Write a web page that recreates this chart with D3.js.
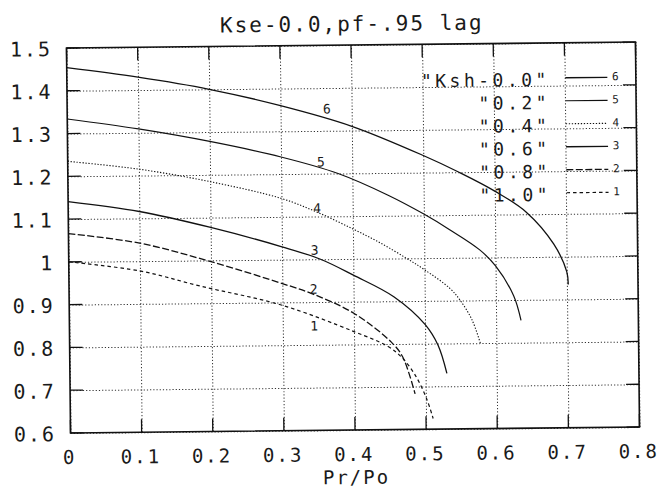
<!DOCTYPE html>
<html>
<head>
<meta charset="utf-8">
<script src="https://cdn.jsdelivr.net/npm/d3@7"></script>
<style>
  html, body { margin: 0; padding: 0; background: #fff; }
  svg { display: block; }
  text { font-family: "DejaVu Sans Mono", "Liberation Mono", monospace; fill: #1a1a1a; }
</style>
</head>
<body>
<svg id="chart" width="659" height="489"></svg>
<script>
// ---------- data ----------
const titleText = "Kse-0.0,pf-.95 lag";
const xAxisLabel = "Pr/Po";
const xTicks = [0, 0.1, 0.2, 0.3, 0.4, 0.5, 0.6, 0.7, 0.8];
const xTickLabels = ["0", "0.1", "0.2", "0.3", "0.4", "0.5", "0.6", "0.7", "0.8"];
const yTicks = [0.6, 0.7, 0.8, 0.9, 1.0, 1.1, 1.2, 1.3, 1.4, 1.5];
const yTickLabels = ["0.6", "0.7", "0.8", "0.9", "1", "1.1", "1.2", "1.3", "1.4", "1.5"];

const legendNames = ["\"Ksh-0.0\"", "\"0.2\"", "\"0.4\"", "\"0.6\"", "\"0.8\"", "\"1.0\""];
const curveIds = ["6", "5", "4", "3", "2", "1"];

const x6 = [0, 0.1, 0.2, 0.3, 0.4, 0.5, 0.55, 0.6, 0.644, 0.682, 0.7, 0.702];
const y6 = [1.454, 1.43, 1.40, 1.36, 1.31, 1.24, 1.20, 1.155, 1.105, 1.03, 0.965, 0.935];
const x5 = [0, 0.1, 0.2, 0.3, 0.38, 0.45, 0.5, 0.536, 0.578, 0.6, 0.625, 0.635];
const y5 = [1.334, 1.309, 1.278, 1.24, 1.20, 1.148, 1.103, 1.066, 1.018, 0.98, 0.91, 0.852];
const x4 = [0, 0.1, 0.2, 0.3, 0.35, 0.4, 0.438, 0.475, 0.5, 0.536, 0.55, 0.566, 0.578];
const y4 = [1.235, 1.215, 1.184, 1.143, 1.11, 1.07, 1.037, 1.0, 0.973, 0.928, 0.9, 0.855, 0.797];
const x3 = [0, 0.1, 0.2, 0.3, 0.354, 0.4, 0.457, 0.5, 0.518, 0.53];
const y3 = [1.141, 1.116, 1.077, 1.03, 1.0, 0.962, 0.91, 0.845, 0.796, 0.73];
const x2 = [0, 0.1, 0.2, 0.3, 0.344, 0.4, 0.452, 0.468, 0.485];
const y2 = [1.066, 1.042, 0.997, 0.944, 0.918, 0.873, 0.805, 0.77, 0.683];
const x1 = [0, 0.1, 0.185, 0.3, 0.4, 0.447, 0.466, 0.485, 0.501, 0.51];
const y1 = [1.0, 0.977, 0.94, 0.893, 0.83, 0.795, 0.77, 0.728, 0.672, 0.625];

// in-plot curve number annotations (data coords)
const annoX = [0.365, 0.356, 0.35, 0.346, 0.344, 0.344];
const annoY = [1.35, 1.226, 1.118, 1.02, 0.929, 0.843];

// ---------- layout ----------
const W = 659, H = 489;
const m = { left: 68.5, right: 659 - 637.5, top: 45, bottom: 489 - 430 };
const iw = W - m.left - m.right, ih = H - m.top - m.bottom;
const cx = m.left + iw / 2, cy = m.top + ih / 2;

const xs = d3.scaleLinear().domain([0, 0.8]).range([m.left, m.left + iw]);
const ys = d3.scaleLinear().domain([0.6, 1.5]).range([m.top + ih, m.top]);

const svg = d3.select("#chart");
svg.append("rect").attr("width", W).attr("height", H).attr("fill", "#fff");
const g = svg.append("g").attr("transform", `rotate(-0.6, ${cx}, ${cy})`);

const ink = "#111";
const tickLen = 13;

// gridlines (dotted) via axes
g.append("g")
  .attr("transform", `translate(0,${m.top + ih})`)
  .call(d3.axisBottom(xs).tickValues(xTicks).tickSize(-ih).tickFormat(""))
  .call(s => s.select(".domain").remove())
  .call(s => s.selectAll("line").attr("stroke", "#333").attr("stroke-dasharray", "1.2,2").attr("stroke-width", 1));
g.append("g")
  .attr("transform", `translate(${m.left},0)`)
  .call(d3.axisLeft(ys).tickValues(yTicks).tickSize(-iw).tickFormat(""))
  .call(s => s.select(".domain").remove())
  .call(s => s.selectAll("line").attr("stroke", "#333").attr("stroke-dasharray", "1.2,2").attr("stroke-width", 1));

// solid inner ticks on all four sides
const tk = g.append("g").attr("stroke", ink).attr("stroke-width", 1.3);
xTicks.forEach(v => {
  tk.append("line").attr("x1", xs(v)).attr("x2", xs(v)).attr("y1", m.top + ih).attr("y2", m.top + ih - tickLen);
  tk.append("line").attr("x1", xs(v)).attr("x2", xs(v)).attr("y1", m.top).attr("y2", m.top + tickLen);
});
yTicks.forEach(v => {
  tk.append("line").attr("x1", m.left).attr("x2", m.left + tickLen).attr("y1", ys(v)).attr("y2", ys(v));
  tk.append("line").attr("x1", m.left + iw).attr("x2", m.left + iw - tickLen).attr("y1", ys(v)).attr("y2", ys(v));
});

// frame
g.append("rect").attr("x", m.left).attr("y", m.top).attr("width", iw).attr("height", ih)
  .attr("fill", "none").attr("stroke", ink).attr("stroke-width", 1.6);

// tick labels
const lblSize = 19, lblSpace = 2;
g.append("g").selectAll("text").data(xTicks).join("text")
  .attr("x", d => xs(d) - 1).attr("y", m.top + ih + 31)
  .attr("text-anchor", "middle").attr("font-size", lblSize).attr("letter-spacing", lblSpace)
  .text((d, i) => xTickLabels[i]);
g.append("g").selectAll("text").data(yTicks).join("text")
  .attr("x", 52 + lblSpace).attr("y", d => ys(d) + 8)
  .attr("text-anchor", "end").attr("font-size", 20).attr("letter-spacing", lblSpace)
  .text((d, i) => yTickLabels[i]);

// title and axis label
g.append("text").attr("x", 353 + 1).attr("y", 31).attr("text-anchor", "middle")
  .attr("font-size", 21).attr("letter-spacing", 2).text(titleText);
g.append("text").attr("x", xs(0.4) + 1).attr("y", 484).attr("text-anchor", "middle")
  .attr("font-size", 19).attr("letter-spacing", 2).text(xAxisLabel);

// series
const seriesX = [x6, x5, x4, x3, x2, x1];
const seriesY = [y6, y5, y4, y3, y2, y1];
const dashes = [null, null, "1.3,1.7", null, "7,2.5", "3.5,3"];
const widths = [1.3, 1.2, 1.1, 1.3, 1.3, 1.2];
const line = d3.line().x(d => xs(d[0])).y(d => ys(d[1])).curve(d3.curveCatmullRom.alpha(0.5));

seriesX.forEach((xa, i) => {
  const pts = xa.map((x, j) => [x, seriesY[i][j]]);
  g.append("path").datum(pts).attr("d", line)
    .attr("fill", "none").attr("stroke", ink).attr("stroke-width", widths[i])
    .attr("stroke-dasharray", dashes[i]);
});

// in-plot curve numbers
g.append("g").selectAll("text").data(curveIds).join("text")
  .attr("x", (d, i) => xs(annoX[i])).attr("y", (d, i) => ys(annoY[i]) + 4)
  .attr("text-anchor", "middle").attr("font-family", "DejaVu Serif").attr("font-size", 13)
  .attr("fill", "#333").text(d => d);

// legend
const legTop = 81, legStep = 23;
const lg = g.append("g");
legendNames.forEach((name, i) => {
  const yy = legTop + i * legStep;
  lg.append("text").attr("x", 548 + 3.5).attr("y", yy + 7).attr("text-anchor", "end")
    .attr("font-size", 18).attr("letter-spacing", 3.5).text(name);
  lg.append("line").attr("x1", 567).attr("x2", 609).attr("y1", yy - 1).attr("y2", yy - 1)
    .attr("stroke", ink).attr("stroke-width", widths[i]).attr("stroke-dasharray", dashes[i]);
  lg.append("text").attr("x", 617).attr("y", yy + 2).attr("text-anchor", "middle")
    .attr("font-family", "DejaVu Serif").attr("font-size", 11).attr("fill", "#333").text(curveIds[i]);
});
</script>
</body>
</html>
